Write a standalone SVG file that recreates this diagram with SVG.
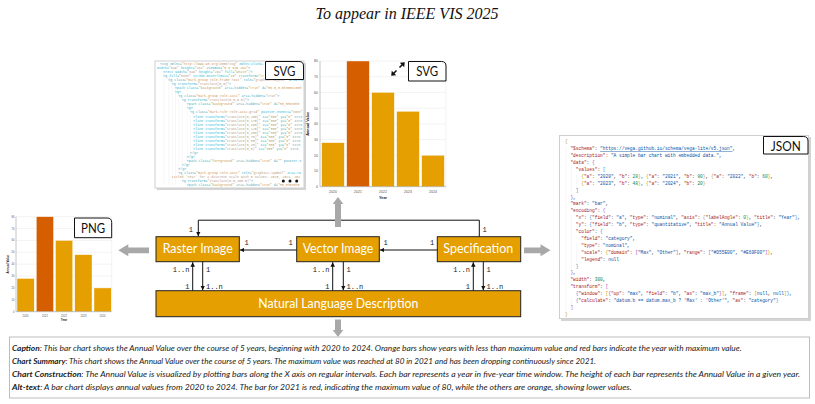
<svg xmlns="http://www.w3.org/2000/svg" width="815" height="404" viewBox="0 0 815 404">
<style>
.title{font-family:"Liberation Serif",serif;font-style:italic;font-size:16px;fill:#111}
.box{fill:#E69F00;stroke:#222;stroke-width:1}
.btxt{font-family:Lato,"Noto Sans",sans-serif;font-size:12.5px;fill:#fff;text-anchor:middle}
.card{font-family:Lato,"Noto Sans",sans-serif;font-size:14px;fill:#111;text-anchor:middle}
.cardbox{fill:#fff;stroke:#111;stroke-width:1}
.conn{stroke:#111;stroke-width:1;fill:none}
.lbl{font-family:"Liberation Mono","DejaVu Sans Mono",monospace;font-size:7px;fill:#222}
.garrow{fill:#a8a8a8}
.code{font-family:"Liberation Mono","DejaVu Sans Mono",monospace;font-size:3.3px;fill:#3fb0c4}
.v{fill:#c49a66}
.json{font-family:"Liberation Mono","DejaVu Sans Mono",monospace;font-size:4.5px;fill:#333}
.k{fill:#a31515}
.s{fill:#0451a5}
.n{fill:#098658}
.b1{fill:#b89a00}
.b2{fill:#b03cb0}
.b3{fill:#2a7fd0}
.cap{font-family:Lato,"Noto Sans",sans-serif;font-style:italic;font-size:8.3px;fill:#222}
.capb{font-weight:bold}
.grid{stroke:#e6e6e6;stroke-width:0.5}
.axis{stroke:#888;stroke-width:0.5}
.tick{font-family:"Liberation Sans",Arial,sans-serif;fill:#555}
.axt{font-family:"Liberation Sans",Arial,sans-serif;font-weight:bold;fill:#222;text-anchor:middle}
.bo{fill:#E69F00;stroke:#fff;stroke-width:0.4}
.br{fill:#D55E00;stroke:#fff;stroke-width:0.4}
.panel{fill:#fff;stroke:#cfcfcf;stroke-width:1}
.shadow{fill:#d4d4d4}
.guide{stroke:#e8e8e8;stroke-width:0.4}
</style>
<defs>
<marker id="ah" viewBox="0 0 8 8" refX="8" refY="4" markerWidth="4.5" markerHeight="4.5" markerUnits="userSpaceOnUse" orient="auto">
<path d="M0,0 L8,4 L0,8 Z" fill="#111"/>
</marker>
<clipPath id="codeclip"><rect x="155" y="61" width="149" height="127"/></clipPath>
</defs>

<text class="title" x="407" y="19" text-anchor="middle">To appear in IEEE VIS 2025</text>

<!-- SVG code panel -->
<g id="svg-code">
<rect class="shadow" x="157" y="63" width="149" height="127"/>
<rect class="panel" x="155" y="61" width="149" height="127"/>
<g stroke="#ececec" stroke-width="0.4">
<line x1="163.8" y1="71" x2="163.8" y2="185"/>
<line x1="168.8" y1="75" x2="168.8" y2="185"/>
<line x1="172.2" y1="79" x2="172.2" y2="185"/>
<line x1="175.5" y1="87" x2="175.5" y2="185"/>
<line x1="178.8" y1="99" x2="178.8" y2="170"/>
<line x1="182.2" y1="103" x2="182.2" y2="166"/>
<line x1="187.2" y1="111" x2="187.2" y2="160"/>
<line x1="190.5" y1="115" x2="190.5" y2="156"/>
</g>
<g clip-path="url(#codeclip)" class="code">
<text x="160" y="65.3">&lt;svg xmlns=<tspan class="v">"http://www.w3.org/2000/svg"</tspan> xmlns:xlink=</text>
<text x="157" y="69.3">width=<tspan class="v">"349"</tspan> height=<tspan class="v">"264"</tspan> viewBox=<tspan class="v">"0 0 349 264"</tspan>&gt;</text>
<text x="163.3" y="73.3">&lt;rect width=<tspan class="v">"349"</tspan> height=<tspan class="v">"264"</tspan> fill=<tspan class="v">"white"</tspan>/&gt;</text>
<text x="163.3" y="77.3">&lt;g fill=<tspan class="v">"none"</tspan> stroke-miterlimit=<tspan class="v">"10"</tspan> transform=<tspan class="v">"tr</tspan></text>
<text x="168.3" y="81.3">&lt;g class=<tspan class="v">"mark-group role-frame root"</tspan> role=<tspan class="v">"graphics-object"</tspan> aria-ro</text>
<text x="171.7" y="85.4">&lt;g transform=<tspan class="v">"translate(0,0)"</tspan>&gt;</text>
<text x="175" y="89.4">&lt;path class=<tspan class="v">"background"</tspan> aria-hidden=<tspan class="v">"true"</tspan> d=<tspan class="v">"M0.5,0.5h300v200h</tspan></text>
<text x="175" y="93.4">&lt;g&gt;</text>
<text x="178.3" y="97.4">&lt;g class=<tspan class="v">"mark-group role-axis"</tspan> aria-hidden=<tspan class="v">"true"</tspan>&gt;</text>
<text x="181.7" y="101.4">&lt;g transform=<tspan class="v">"translate(0.5,0.5)"</tspan>&gt;</text>
<text x="186.7" y="105.4">&lt;path class=<tspan class="v">"background"</tspan> aria-hidden=<tspan class="v">"true"</tspan> d=<tspan class="v">"M0,0h0v0h0</tspan></text>
<text x="186.7" y="109.4">&lt;g&gt;</text>
<text x="190" y="113.4">&lt;g class=<tspan class="v">"mark-rule role-axis-grid"</tspan> pointer-events=<tspan class="v">"none"</tspan></text>
<text x="193.3" y="117.5">&lt;line transform=<tspan class="v">"translate(0,200)"</tspan> x2=<tspan class="v">"300"</tspan> y2=<tspan class="v">"0"</tspan> stro</text>
<text x="193.3" y="121.5">&lt;line transform=<tspan class="v">"translate(0,175)"</tspan> x2=<tspan class="v">"300"</tspan> y2=<tspan class="v">"0"</tspan> stro</text>
<text x="193.3" y="125.5">&lt;line transform=<tspan class="v">"translate(0,150)"</tspan> x2=<tspan class="v">"300"</tspan> y2=<tspan class="v">"0"</tspan> stro</text>
<text x="193.3" y="129.5">&lt;line transform=<tspan class="v">"translate(0,125)"</tspan> x2=<tspan class="v">"300"</tspan> y2=<tspan class="v">"0"</tspan> stro</text>
<text x="193.3" y="133.5">&lt;line transform=<tspan class="v">"translate(0,100)"</tspan> x2=<tspan class="v">"300"</tspan> y2=<tspan class="v">"0"</tspan> stro</text>
<text x="193.3" y="137.5">&lt;line transform=<tspan class="v">"translate(0,75)"</tspan> x2=<tspan class="v">"300"</tspan> y2=<tspan class="v">"0"</tspan> stro</text>
<text x="193.3" y="141.6">&lt;line transform=<tspan class="v">"translate(0,50)"</tspan> x2=<tspan class="v">"300"</tspan> y2=<tspan class="v">"0"</tspan> stro</text>
<text x="193.3" y="145.6">&lt;line transform=<tspan class="v">"translate(0,25)"</tspan> x2=<tspan class="v">"300"</tspan> y2=<tspan class="v">"0"</tspan> stro</text>
<text x="193.3" y="149.6">&lt;line transform=<tspan class="v">"translate(0,0)"</tspan> x2=<tspan class="v">"300"</tspan> y2=<tspan class="v">"0"</tspan> stro</text>
<text x="190" y="153.6">&lt;/g&gt;</text>
<text x="186.7" y="157.6">&lt;/g&gt;</text>
<text x="186.7" y="161.6">&lt;path class=<tspan class="v">"foreground"</tspan> aria-hidden=<tspan class="v">"true"</tspan> d=<tspan class="v">""</tspan> pointer-e</text>
<text x="181.7" y="165.7">&lt;/g&gt;</text>
<text x="178.3" y="169.7">&lt;/g&gt;</text>
<text x="178.3" y="173.7">&lt;g class=<tspan class="v">"mark-group role-axis"</tspan> role=<tspan class="v">"graphics-symbol"</tspan> aria-ro</text>
<text x="171.7" y="177.7" class="v">titled 'Year' for a discrete scale with 5 values: 2020, 2021, 202</text>
<text x="181.7" y="181.7">&lt;g transform=<tspan class="v">"translate(0.5,200.5)"</tspan>&gt;</text>
<text x="186.7" y="185.7">&lt;path class=<tspan class="v">"background"</tspan> aria-hidden=<tspan class="v">"true"</tspan> d=<tspan class="v">"M0,0h0v0h0</tspan></text>
</g>
<circle cx="283.3" cy="181" r="1.5" fill="#111"/>
<circle cx="290" cy="181" r="1.5" fill="#111"/>
<circle cx="296.7" cy="181" r="1.5" fill="#111"/>
<path class="cardbox" d="M265.5,61.5 H299 Q303.5,61.5 303.5,66 V79.5 H265.5 Z"/>
<text class="card" x="284.5" y="75.5" textLength="22" lengthAdjust="spacingAndGlyphs">SVG</text>
</g>

<!-- SVG rendered chart -->
<g id="svg-chart">
<g class="grid">
<line x1="320" y1="171" x2="446" y2="171"/><line x1="320" y1="155.3" x2="446" y2="155.3"/>
<line x1="320" y1="139.6" x2="446" y2="139.6"/><line x1="320" y1="123.9" x2="446" y2="123.9"/>
<line x1="320" y1="108.2" x2="446" y2="108.2"/><line x1="320" y1="92.4" x2="446" y2="92.4"/>
<line x1="320" y1="76.7" x2="446" y2="76.7"/><line x1="320" y1="61" x2="446" y2="61"/>
<line x1="446" y1="61" x2="446" y2="186.7"/>
</g>
<rect class="bo" x="321.7" y="142.7" width="22.6" height="44"/>
<rect class="br" x="346.7" y="61" width="22.6" height="125.7"/>
<rect class="bo" x="371.7" y="92.4" width="22.6" height="94.3"/>
<rect class="bo" x="396.7" y="111.3" width="22.6" height="75.4"/>
<rect class="bo" x="421.7" y="155.3" width="22.6" height="31.4"/>
<line class="axis" x1="320" y1="61" x2="320" y2="186.7"/>
<line class="axis" x1="320" y1="186.7" x2="446" y2="186.7"/>
<g class="tick" font-size="3.5" text-anchor="end">
<text x="318" y="188">0</text><text x="318" y="172.3">10</text><text x="318" y="156.6">20</text>
<text x="318" y="140.9">30</text><text x="318" y="125.2">40</text><text x="318" y="109.5">50</text>
<text x="318" y="93.7">60</text><text x="318" y="78">70</text><text x="318" y="62.3">80</text>
</g>
<g class="tick" font-size="3.5" text-anchor="middle">
<text x="333" y="192.5">2020</text><text x="358" y="192.5">2021</text><text x="383" y="192.5">2022</text>
<text x="408" y="192.5">2023</text><text x="433" y="192.5">2024</text>
</g>
<text class="axt" x="383" y="198.5" font-size="3.8">Year</text>
<text class="axt" font-size="3.8" transform="translate(308.5,123.8) rotate(-90)">Annual Value</text>
<g stroke="#111" stroke-width="1.6" fill="#111">
<line x1="392.5" y1="74.5" x2="396.5" y2="70.5"/>
<polygon points="391.2,75.8 391.8,70.8 396.2,75.2" stroke="none"/>
<line x1="399.5" y1="67.5" x2="403.5" y2="63.5"/>
<polygon points="404.8,62.2 404.2,67.2 399.8,62.8" stroke="none"/>
</g>
<path class="cardbox" d="M408.5,61.5 H441.5 Q446,61.5 446,66 V81 H408.5 Z"/>
<text class="card" x="427.2" y="76" textLength="22" lengthAdjust="spacingAndGlyphs">SVG</text>
</g>

<!-- JSON panel -->
<g id="json-spec">
<rect class="shadow" x="561" y="137" width="250" height="184"/>
<rect class="panel" x="559.5" y="135.5" width="249" height="183"/>
<g class="guide">
<line x1="566" y1="146" x2="566" y2="312"/>
<line x1="571.4" y1="167" x2="571.4" y2="196"/>
<line x1="576.8" y1="174" x2="576.8" y2="189"/>
<line x1="571.4" y1="215" x2="571.4" y2="271"/>
<line x1="576.8" y1="243" x2="576.8" y2="264"/>
<line x1="571.4" y1="298" x2="571.4" y2="306"/>
</g>
<g class="json">
<text x="565" y="143.3"><tspan class="b1">{</tspan></text>
<text x="570.4" y="150.2"><tspan class="k">"$schema"</tspan>: <tspan class="s" text-decoration="underline">"https://vega.github.io/schema/vega-lite/v5.json"</tspan>,</text>
<text x="570.4" y="157.1"><tspan class="k">"description"</tspan>: <tspan class="s">"A simple bar chart with embedded data."</tspan>,</text>
<text x="570.4" y="164"><tspan class="k">"data"</tspan>: <tspan class="b2">{</tspan></text>
<text x="575.8" y="170.9"><tspan class="k">"values"</tspan>: <tspan class="b3">[</tspan></text>
<text x="581.2" y="177.8"><tspan class="b1">{</tspan><tspan class="k">"a"</tspan>: <tspan class="s">"2020"</tspan>, <tspan class="k">"b"</tspan>: <tspan class="n">28</tspan><tspan class="b1">}</tspan>, <tspan class="b1">{</tspan><tspan class="k">"a"</tspan>: <tspan class="s">"2021"</tspan>, <tspan class="k">"b"</tspan>: <tspan class="n">80</tspan><tspan class="b1">}</tspan>, <tspan class="b1">{</tspan><tspan class="k">"a"</tspan>: <tspan class="s">"2022"</tspan>, <tspan class="k">"b"</tspan>: <tspan class="n">60</tspan><tspan class="b1">}</tspan>,</text>
<text x="581.2" y="184.7"><tspan class="b1">{</tspan><tspan class="k">"a"</tspan>: <tspan class="s">"2023"</tspan>, <tspan class="k">"b"</tspan>: <tspan class="n">48</tspan><tspan class="b1">}</tspan>, <tspan class="b1">{</tspan><tspan class="k">"a"</tspan>: <tspan class="s">"2024"</tspan>, <tspan class="k">"b"</tspan>: <tspan class="n">20</tspan><tspan class="b1">}</tspan></text>
<text x="575.8" y="191.6"><tspan class="b3">]</tspan></text>
<text x="570.4" y="198.5"><tspan class="b2">}</tspan>,</text>
<text x="570.4" y="205.4"><tspan class="k">"mark"</tspan>: <tspan class="s">"bar"</tspan>,</text>
<text x="570.4" y="212.3"><tspan class="k">"encoding"</tspan>: <tspan class="b2">{</tspan></text>
<text x="575.8" y="219.2"><tspan class="k">"x"</tspan>: <tspan class="b3">{</tspan><tspan class="k">"field"</tspan>: <tspan class="s">"a"</tspan>, <tspan class="k">"type"</tspan>: <tspan class="s">"nominal"</tspan>, <tspan class="k">"axis"</tspan>: <tspan class="b1">{</tspan><tspan class="k">"labelAngle"</tspan>: <tspan class="n">0</tspan><tspan class="b1">}</tspan>, <tspan class="k">"title"</tspan>: <tspan class="s">"Year"</tspan><tspan class="b3">}</tspan>,</text>
<text x="575.8" y="226.1"><tspan class="k">"y"</tspan>: <tspan class="b3">{</tspan><tspan class="k">"field"</tspan>: <tspan class="s">"b"</tspan>, <tspan class="k">"type"</tspan>: <tspan class="s">"quantitative"</tspan>, <tspan class="k">"title"</tspan>: <tspan class="s">"Annual Value"</tspan><tspan class="b3">}</tspan>,</text>
<text x="575.8" y="233"><tspan class="k">"color"</tspan>: <tspan class="b3">{</tspan></text>
<text x="581.2" y="239.9"><tspan class="k">"field"</tspan>: <tspan class="s">"category"</tspan>,</text>
<text x="581.2" y="246.8"><tspan class="k">"type"</tspan>: <tspan class="s">"nominal"</tspan>,</text>
<text x="581.2" y="253.7"><tspan class="k">"scale"</tspan>: <tspan class="b1">{</tspan><tspan class="k">"domain"</tspan>: <tspan class="b2">[</tspan><tspan class="s">"Max"</tspan>, <tspan class="s">"Other"</tspan><tspan class="b2">]</tspan>, <tspan class="k">"range"</tspan>: <tspan class="b2">[</tspan><tspan class="s">"#D55E00"</tspan>, <tspan class="s">"#E69F00"</tspan><tspan class="b2">]</tspan><tspan class="b1">}</tspan>,</text>
<text x="581.2" y="260.6"><tspan class="k">"legend"</tspan>: <tspan class="s">null</tspan></text>
<text x="575.8" y="267.5"><tspan class="b3">}</tspan></text>
<text x="570.4" y="274.4"><tspan class="b2">}</tspan>,</text>
<text x="570.4" y="281.3"><tspan class="k">"width"</tspan>: <tspan class="n">300</tspan>,</text>
<text x="570.4" y="288.2"><tspan class="k">"transform"</tspan>: <tspan class="b2">[</tspan></text>
<text x="575.8" y="295.1"><tspan class="b3">{</tspan><tspan class="k">"window"</tspan>: <tspan class="b1">[</tspan><tspan class="b2">{</tspan><tspan class="k">"op"</tspan>: <tspan class="s">"max"</tspan>, <tspan class="k">"field"</tspan>: <tspan class="s">"b"</tspan>, <tspan class="k">"as"</tspan>: <tspan class="s">"max_b"</tspan><tspan class="b2">}</tspan><tspan class="b1">]</tspan>, <tspan class="k">"frame"</tspan>: <tspan class="b1">[</tspan><tspan class="s">null</tspan>, <tspan class="s">null</tspan><tspan class="b1">]</tspan><tspan class="b3">}</tspan>,</text>
<text x="575.8" y="302"><tspan class="b3">{</tspan><tspan class="k">"calculate"</tspan>: <tspan class="s">"datum.b == datum.max_b ? 'Max' : 'Other'"</tspan>, <tspan class="k">"as"</tspan>: <tspan class="s">"category"</tspan><tspan class="b3">}</tspan></text>
<text x="570.4" y="308.9"><tspan class="b2">]</tspan></text>
<text x="565" y="315.8"><tspan class="b1">}</tspan></text>
</g>
<path class="cardbox" d="M763.5,136.5 H803.5 Q808,136.5 808,141 V154 H763.5 Z"/>
<text class="card" x="785.7" y="150.5" textLength="30" lengthAdjust="spacingAndGlyphs">JSON</text>
</g>

<!-- PNG chart -->
<g id="png-chart">
<g class="grid">
<line x1="16" y1="299.8" x2="111.7" y2="299.8"/><line x1="16" y1="287.95" x2="111.7" y2="287.95"/>
<line x1="16" y1="276.1" x2="111.7" y2="276.1"/><line x1="16" y1="264.2" x2="111.7" y2="264.2"/>
<line x1="16" y1="252.3" x2="111.7" y2="252.3"/><line x1="16" y1="240.45" x2="111.7" y2="240.45"/>
<line x1="16" y1="228.6" x2="111.7" y2="228.6"/><line x1="16" y1="216.7" x2="111.7" y2="216.7"/>
<line x1="111.7" y1="216.7" x2="111.7" y2="311.7"/>
</g>
<rect class="bo" x="17" y="278.45" width="17.2" height="33.25"/>
<rect class="br" x="36.3" y="216.7" width="17.2" height="95"/>
<rect class="bo" x="55.5" y="240.45" width="17.2" height="71.25"/>
<rect class="bo" x="74.8" y="254.7" width="17.2" height="57"/>
<rect class="bo" x="94" y="287.95" width="17.2" height="23.75"/>
<line class="axis" x1="16" y1="216.7" x2="16" y2="311.7"/>
<line class="axis" x1="16" y1="311.7" x2="111.7" y2="311.7"/>
<g class="tick" font-size="2.7" text-anchor="end">
<text x="14.5" y="312.7">0</text><text x="14.5" y="300.8">10</text><text x="14.5" y="289">20</text>
<text x="14.5" y="277.1">30</text><text x="14.5" y="265.2">40</text><text x="14.5" y="253.3">50</text>
<text x="14.5" y="241.4">60</text><text x="14.5" y="229.6">70</text><text x="14.5" y="217.7">80</text>
</g>
<g class="tick" font-size="2.7" text-anchor="middle">
<text x="25.6" y="316.5">2020</text><text x="44.9" y="316.5">2021</text><text x="64.1" y="316.5">2022</text>
<text x="83.4" y="316.5">2023</text><text x="102.6" y="316.5">2024</text>
</g>
<text class="axt" x="64" y="321" font-size="3">Year</text>
<text class="axt" font-size="3" transform="translate(8.5,264.2) rotate(-90)">Annual Value</text>
<path class="cardbox" d="M74.5,218 H107.2 Q111.7,218 111.7,222.5 V237.7 H74.5 Z"/>
<text class="card" x="93.1" y="232.8" textLength="24" lengthAdjust="spacingAndGlyphs">PNG</text>
</g>

<!-- Nodes -->
<g id="raster-image">
<rect class="box" x="156" y="236.7" width="83.3" height="25"/>
<text class="btxt" x="197.7" y="253.3" textLength="70" lengthAdjust="spacingAndGlyphs">Raster Image</text>
</g>
<g id="vector-image">
<rect class="box" x="296.7" y="236.7" width="82.6" height="25"/>
<text class="btxt" x="338" y="253.3" textLength="70.6" lengthAdjust="spacingAndGlyphs">Vector Image</text>
</g>
<g id="specification">
<rect class="box" x="437.3" y="236.7" width="83.4" height="25"/>
<text class="btxt" x="478.3" y="253.3" textLength="70" lengthAdjust="spacingAndGlyphs">Specification</text>
</g>
<g id="nl-description">
<rect class="box" x="156" y="290.7" width="364.7" height="26"/>
<text class="btxt" x="338.3" y="307.8" textLength="160" lengthAdjust="spacingAndGlyphs">Natural Language Description</text>
</g>

<!-- Connectors -->
<g id="connectors">
<path class="conn" d="M479.3,236.7 V220.2 H198.3 V236.2" marker-end="url(#ah)"/>
<path class="conn" d="M437.3,250 H379.8" marker-end="url(#ah)"/>
<path class="conn" d="M296.7,250 H239.8" marker-end="url(#ah)"/>
<path class="conn" d="M192.7,290.7 V262.2" marker-end="url(#ah)"/>
<path class="conn" d="M202.7,261.7 V290.2" marker-end="url(#ah)"/>
<path class="conn" d="M332.7,290.7 V262.2" marker-end="url(#ah)"/>
<path class="conn" d="M343.3,261.7 V290.2" marker-end="url(#ah)"/>
<path class="conn" d="M473.3,290.7 V262.2" marker-end="url(#ah)"/>
<path class="conn" d="M483.3,261.7 V290.2" marker-end="url(#ah)"/>
<g class="lbl">
<text x="188.8" y="232">1</text>
<text x="482.5" y="232">1</text>
<text x="244.5" y="245">1</text>
<text x="288.5" y="245">1</text>
<text x="383.5" y="245">1</text>
<text x="430" y="245">1</text>
<text x="189.5" y="272" text-anchor="end">1..n</text>
<text x="206" y="272">1</text>
<text x="189.5" y="288.5" text-anchor="end">1</text>
<text x="206" y="288.5">1..n</text>
<text x="329.5" y="272" text-anchor="end">1..n</text>
<text x="346.5" y="272">1</text>
<text x="329.5" y="288.5" text-anchor="end">1</text>
<text x="346.5" y="288.5">1..n</text>
<text x="470" y="272" text-anchor="end">1..n</text>
<text x="486.5" y="272">1</text>
<text x="470" y="288.5" text-anchor="end">1</text>
<text x="486.5" y="288.5">1..n</text>
</g>
<!-- gray output arrows -->
<polygon class="garrow" points="338,197 343.3,204 341,204 341,227 335,227 335,204 332.7,204"/>
<polygon class="garrow" points="118.3,250.3 128.3,244.3 128.3,247.5 149,247.5 149,253.3 128.3,253.3 128.3,256.3"/>
<polygon class="garrow" points="550.5,250.3 540.5,244.3 540.5,247.5 524,247.5 524,253.3 540.5,253.3 540.5,256.3"/>
<polygon class="garrow" points="338,337 343.3,330 341,330 341,319.5 335,319.5 335,330 332.7,330"/>
</g>

<!-- Caption box -->
<g id="captions">
<rect x="9.5" y="337" width="800" height="61" fill="#fff" stroke="#bdbdbd" stroke-width="1"/>
<text class="cap" x="12" y="350.5" textLength="729.7" lengthAdjust="spacingAndGlyphs"><tspan class="capb">Caption</tspan>: This bar chart shows the Annual Value over the course of 5 years, beginning with 2020 to 2024. Orange bars show years with less than maximum value and red bars indicate the year with maximum value.</text>
<text class="cap" x="12" y="363.7" textLength="584" lengthAdjust="spacingAndGlyphs"><tspan class="capb">Chart Summary</tspan>: This chart shows the Annual Value over the course of 5 years. The maximum value was reached at 80 in 2021 and has been dropping continuously since 2021.</text>
<text class="cap" x="12" y="376.9" textLength="788" lengthAdjust="spacingAndGlyphs"><tspan class="capb">Chart Construction</tspan>: The Annual Value is visualized by plotting bars along the X axis on regular intervals. Each bar represents a year in five-year time window. The height of each bar represents the Annual Value in a given year.</text>
<text class="cap" x="12" y="390.1" textLength="619.7" lengthAdjust="spacingAndGlyphs"><tspan class="capb">Alt-text</tspan>: A bar chart displays annual values from 2020 to 2024. The bar for 2021 is red, indicating the maximum value of 80, while the others are orange, showing lower values.</text>
</g>
</svg>
